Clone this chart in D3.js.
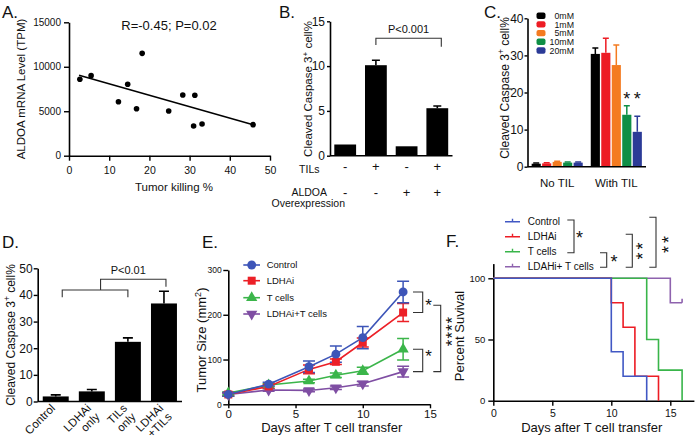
<!DOCTYPE html>
<html><head><meta charset="utf-8">
<script src="https://cdn.jsdelivr.net/npm/d3@7"></script>
<style>
html,body{margin:0;padding:0;background:#fff;}
svg{display:block;font-family:"Liberation Sans",Arial,Helvetica,sans-serif;}
</style></head><body>
<svg id="chart" width="699" height="446"></svg>
<script>
// ================= DATA =================
// Panel A: ALDOA vs tumor killing
const killPct  = [2.7, 5.5, 12.3, 14.6, 16.8, 18.2, 24.8, 28.3, 31.3, 31.0, 33.1, 45.8];
const aldoaTPM = [8590, 9000, 6070, 8030, 5285, 11510, 5025, 6825, 6800, 3340, 3560, 3490];
const fitKill  = [2.5, 45.8];
const fitTPM   = [9050, 3490];
const aTicksX  = [0, 10, 20, 30, 40, 50];
const aTicksY  = [0, 5000, 10000, 15000];

// Panel B
const bGroups = ["b1", "b2", "b3", "b4"];
const bValues = [1.25, 10.1, 1.05, 5.3];
const bErrors = [0, 0.55, 0, 0.25];
const bTILs   = ["-", "+", "-", "+"];
const bALDOA  = ["-", "-", "+", "+"];
const bTicksY = [0, 5, 10, 15];

// Panel C
const cGroups     = ["No TIL", "With TIL"];
const cDoses      = ["0mM", "1mM", "5mM", "10mM", "20mM"];
const cNoTIL      = [0.8, 0.9, 1.3, 1.1, 1.1];
const cNoTILErr   = [0.2, 0.15, 0.2, 0.15, 0.15];
const cWithTIL    = [30.4, 30.7, 27.4, 14.0, 9.4];
const cWithTILErr = [1.6, 3.9, 5.4, 2.4, 4.2];
const cTicksY     = [0, 10, 20, 30, 40];

// Panel D
const dGroups = ["Control", "LDHAi only", "TILs only", "LDHAi +TILs"];
const dLabels = [["Control"], ["LDHAi", "only"], ["TILs", "only"], ["LDHAi", "+TILs"]];
const dValues = [1.9, 3.8, 22.4, 36.8];
const dErrors = [0.6, 0.7, 1.5, 4.6];
const dTicksY = [0, 10, 20, 30, 40, 50];

// Panel E: tumor growth
const eDays       = [0, 3, 6, 8, 10, 13];
const eControl    = [22, 45, 84, 112, 149, 251];
const eControlErr = [4, 4, 13, 18, 25, 24];
const eLDHAi      = [22, 40, 78, 95, 138, 205];
const eLDHAiErr   = [4, 4, 10, 6, 10, 20];
const eTcells     = [25, 43, 52, 65, 75, 123];
const eTcellsErr  = [3, 3, 4, 5, 8, 24];
const eCombo      = [22, 32, 31, 37, 46, 73];
const eComboErr   = [3, 3, 3, 4, 5, 12];
const eTicksX     = [0, 5, 10, 15];
const eTicksY     = [0, 100, 200, 300];

// Panel F: survival
const fControlT = [0, 10, 11, 13];      const fControlP = [100, 40, 20, 0];
const fLDHAiT   = [0, 10, 11, 12, 14];  const fLDHAiP   = [100, 80, 60, 20, 0];
const fTcellsT  = [0, 13, 14, 16];      const fTcellsP  = [100, 50, 25, 0];
const fComboT   = [0, 15, 16];          const fComboP   = [100, 80, 80];
const fTicksX   = [0, 5, 10, 15];
const fTicksY   = [0, 50, 100];

// ================= DRAW =================
const FONT = '"Liberation Sans", Arial, Helvetica, sans-serif';
const svg = d3.select("#chart");

function styleAxis(g, fs) {
  g.select(".domain").attr("stroke", "#000").attr("stroke-width", 1.6);
  g.selectAll(".tick line").attr("stroke", "#000").attr("stroke-width", 1.4);
  g.selectAll(".tick text").attr("fill", "#111").style("font-size", fs + "px").style("font-family", FONT);
}
function text(x, y, t, fs, anchor) {
  return svg.append("text").attr("x", x).attr("y", y).attr("font-size", fs)
    .attr("text-anchor", anchor || "start").attr("fill", "#111").style("font-family", FONT).text(t);
}
function vtitle(x, yc, fs, parts) {
  const t = svg.append("text").attr("transform", `translate(${x},${yc}) rotate(-90)`)
    .attr("text-anchor", "middle").attr("font-size", fs).attr("fill", "#111").style("font-family", FONT);
  parts.forEach(p => {
    const ts = t.append("tspan").text(p.t);
    if (p.sup) ts.attr("baseline-shift", "super").attr("font-size", fs * 0.7);
  });
  return t;
}
function star(xc, yc, fs) {
  return text(xc, yc + fs * 0.58, "*", fs, "middle");
}
function vstars(xc, yc, n, fs, spacing) {
  return svg.append("text").attr("transform", `translate(${xc + fs * 0.58},${yc}) rotate(-90)`)
    .attr("text-anchor", "middle").attr("font-size", fs).attr("letter-spacing", spacing || 0)
    .attr("fill", "#111").style("font-family", FONT).text("*".repeat(n));
}
function panelLabel(x, y, t) { return text(x, y, t, 17, "start"); }
const bracketStroke = "#333";

// ---------- Panel A ----------
{
  const xA = d3.scaleLinear().domain([0, 50]).range([69, 270]);
  const yA = d3.scaleLinear().domain([0, 15000]).range([155.7, 22.3]);
  svg.append("g").attr("transform", "translate(0,155.7)")
    .call(d3.axisBottom(xA).tickValues(aTicksX).tickSize(5).tickSizeOuter(0).tickPadding(6))
    .call(styleAxis, 10.5);
  svg.append("g").attr("transform", "translate(69,0)")
    .call(d3.axisLeft(yA).tickValues(aTicksY).tickFormat(d3.format("d")).tickSize(5).tickSizeOuter(0).tickPadding(3))
    .call(styleAxis, 10);
  svg.append("line").attr("x1", xA(fitKill[0])).attr("y1", yA(fitTPM[0]))
    .attr("x2", xA(fitKill[1])).attr("y2", yA(fitTPM[1])).attr("stroke", "#000").attr("stroke-width", 1.5);
  svg.append("g").selectAll("circle").data(killPct).join("circle")
    .attr("cx", d => xA(d)).attr("cy", (d, i) => yA(aldoaTPM[i])).attr("r", 2.8).attr("fill", "#000");
  panelLabel(2, 18, "A.");
  text(169, 30, "R=-0.45; P=0.02", 13, "middle");
  text(174, 191, "Tumor killing %", 11.5, "middle");
  vtitle(25, 89, 11.5, [{t: "ALDOA mRNA Level (TPM)"}]);
}

// ---------- Panel B ----------
{
  const xB = d3.scaleBand().domain(bGroups).range([330, 452.5]).paddingInner(0.29).paddingOuter(0.14);
  const yB = d3.scaleLinear().domain([0, 15]).range([155.7, 21.3]);
  svg.append("g").attr("transform", "translate(330,0)")
    .call(d3.axisLeft(yB).tickValues(bTicksY).tickSize(3).tickSizeOuter(0).tickPadding(2))
    .call(styleAxis, 12);
  svg.append("g").selectAll("rect").data(bGroups).join("rect")
    .attr("x", d => xB(d)).attr("width", xB.bandwidth())
    .attr("y", (d, i) => yB(bValues[i])).attr("height", (d, i) => yB(0) - yB(bValues[i])).attr("fill", "#000");
  bGroups.forEach((g, i) => {
    if (!bErrors[i]) return;
    const cx = xB(g) + xB.bandwidth() / 2, y1 = yB(bValues[i]), y2 = yB(bValues[i] + bErrors[i]);
    svg.append("path").attr("d", `M${cx},${y1}V${y2}M${cx - 4},${y2}H${cx + 4}`).attr("stroke", "#000").attr("stroke-width", 1.6).attr("fill", "none");
  });
  svg.append("line").attr("x1", 330).attr("x2", 452.5).attr("y1", 155.7).attr("y2", 155.7).attr("stroke", "#000").attr("stroke-width", 1.6);
  const cB = i => xB(bGroups[i]) + xB.bandwidth() / 2;
  svg.append("path").attr("d", `M${cB(1)},45V38.3H${cB(3) + 4}V46.7`).attr("stroke", bracketStroke).attr("stroke-width", 1.1).attr("fill", "none");
  text((cB(1) + cB(3) + 4) / 2, 33, "P<0.001", 11, "middle");
  bGroups.forEach((g, i) => {
    text(cB(i), 171, bTILs[i], 13, "middle");
    text(cB(i), 196.5, bALDOA[i], 13, "middle");
  });
  text(319.5, 173, "TILs", 10.5, "end");
  text(327, 195.5, "ALDOA", 10.5, "end");
  text(345, 207, "Overexpression", 10.5, "end");
  panelLabel(279, 18, "B.");
  vtitle(312, 89, 11.5, [{t: "Cleaved Caspase 3"}, {t: "+", sup: true}, {t: " cell%"}]);
}

// ---------- Panel C ----------
{
  const x0 = d3.scaleBand().domain(cGroups).range([527.5, 646]).paddingInner(0.136).paddingOuter(0.07);
  const x1 = d3.scaleBand().domain(cDoses).range([0, x0.bandwidth()]).paddingInner(0.13);
  const yC = d3.scaleLinear().domain([0, 40]).range([166.7, 18.3]);
  const cColors = ["#000000", "#ed1c24", "#f47b20", "#0f8f46", "#2b3a97"];
  svg.append("g").attr("transform", "translate(527.5,0)")
    .call(d3.axisLeft(yC).tickValues(cTicksY).tickSize(3).tickSizeOuter(0).tickPadding(1))
    .call(styleAxis, 12);
  const groupsData = [{g: "No TIL", v: cNoTIL, e: cNoTILErr}, {g: "With TIL", v: cWithTIL, e: cWithTILErr}];
  groupsData.forEach(gd => {
    cDoses.forEach((d, i) => {
      const x = x0(gd.g) + x1(d), w = x1.bandwidth(), cx = x + w / 2;
      const yt = yC(gd.v[i]), ye = yC(gd.v[i] + gd.e[i]);
      svg.append("path").attr("d", `M${cx},${yt}V${ye}M${cx - 3},${ye}H${cx + 3}`).attr("stroke", cColors[i]).attr("stroke-width", 1.5).attr("fill", "none");
      svg.append("rect").attr("x", x).attr("width", w).attr("y", yt).attr("height", yC(0) - yt).attr("fill", cColors[i]);
    });
  });
  svg.append("line").attr("x1", 527.5).attr("x2", 646).attr("y1", 166.7).attr("y2", 166.7).attr("stroke", "#000").attr("stroke-width", 1.6);
  cGroups.forEach(g => text(x0(g) + x0.bandwidth() / 2, 187, g, 11.5, "middle"));
  [3, 4].forEach(i => star(x0("With TIL") + x1(cDoses[i]) + x1.bandwidth() / 2, yC(19.4), 18));
  cDoses.forEach((d, i) => {
    const yy = 15.7 + i * 8.7;
    svg.append("rect").attr("x", 536.5).attr("y", yy - 3.2).attr("width", 9).attr("height", 6.4).attr("rx", 2).attr("fill", cColors[i]);
    text(574, yy + 3.2, d, 8.8, "end");
  });
  panelLabel(484, 18, "C.");
  vtitle(509, 88, 12, [{t: "Cleaved Caspase 3"}, {t: "+", sup: true}, {t: " cell%"}]);
}

// ---------- Panel D ----------
{
  const xD = d3.scaleBand().domain(dGroups).range([37.7, 182]).paddingInner(0.28).paddingOuter(0.14);
  const yD = d3.scaleLinear().domain([0, 50]).range([401.5, 268.3]);
  svg.append("g").attr("transform", "translate(37.7,0)")
    .call(d3.axisLeft(yD).tickValues(dTicksY).tickSize(4).tickSizeOuter(0).tickPadding(1))
    .call(styleAxis, 12);
  const cD = i => xD(dGroups[i]) + xD.bandwidth() / 2;
  dGroups.forEach((g, i) => {
    const x = xD(g), w = xD.bandwidth(), cx = cD(i);
    const yt = yD(dValues[i]), ye = yD(dValues[i] + dErrors[i]);
    svg.append("path").attr("d", `M${cx},${yt}V${ye}M${cx - 5},${ye}H${cx + 5}`).attr("stroke", "#000").attr("stroke-width", 1.6).attr("fill", "none");
    svg.append("rect").attr("x", x).attr("width", w).attr("y", yt).attr("height", yD(0) - yt).attr("fill", "#000");
    const lab = svg.append("text").attr("transform", `translate(${cx},409) rotate(-45)`)
      .attr("text-anchor", "end").attr("font-size", 11.5).attr("fill", "#111").style("font-family", FONT);
    dLabels[i].forEach((l, j) => lab.append("tspan").attr("x", 0).attr("dy", j ? "1.05em" : 0).text(l));
  });
  svg.append("line").attr("x1", 37.7).attr("x2", 182).attr("y1", 401.5).attr("y2", 401.5).attr("stroke", "#000").attr("stroke-width", 1.6);
  const lx1 = cD(0) + 6.5, lx2 = cD(2);
  const ux1 = (lx1 + lx2) / 2 + 5.5, ux2 = cD(3) + 2;
  svg.append("path").attr("d", `M${lx1},297.3V290H${lx2}V297.3`).attr("stroke", bracketStroke).attr("stroke-width", 1.1).attr("fill", "none");
  svg.append("path").attr("d", `M${ux1},290V279.3H${ux2}V286.7`).attr("stroke", bracketStroke).attr("stroke-width", 1.1).attr("fill", "none");
  text((ux1 + ux2) / 2 - 5, 274, "P<0.01", 11, "middle");
  panelLabel(2, 248, "D.");
  vtitle(15, 335, 12, [{t: "Cleaved Caspase 3"}, {t: "+", sup: true}, {t: " cell%"}]);
}

// ---------- Panel E ----------
{
  const xE = d3.scaleLinear().domain([0, 15]).range([228.3, 430]);
  const yE = d3.scaleLinear().domain([0, 300]).range([404.3, 270]);
  svg.append("g").attr("transform", "translate(0,404.3)")
    .call(d3.axisBottom(xE).tickValues(eTicksX).tickSize(4).tickSizeOuter(0).tickPadding(2))
    .call(styleAxis, 11.5);
  svg.append("g").attr("transform", "translate(228.3,0)")
    .call(d3.axisLeft(yE).tickValues(eTicksY).tickSize(5).tickSizeOuter(0).tickPadding(1.5))
    .call(styleAxis, 8.5);
  const series = [
    {name: "LDHAi+T cells", v: eCombo, e: eComboErr, color: "#7f4ea3", sym: d3.symbolTriangle, size: 55, rot: 180},
    {name: "T cells", v: eTcells, e: eTcellsErr, color: "#3bb54a", sym: d3.symbolTriangle, size: 55, rot: 0},
    {name: "LDHAi", v: eLDHAi, e: eLDHAiErr, color: "#ec2027", sym: d3.symbolSquare, size: 64, rot: 0},
    {name: "Control", v: eControl, e: eControlErr, color: "#3d55b8", sym: d3.symbolCircle, size: 62, rot: 0}
  ];
  const line = d3.line().x((d, i) => xE(eDays[i])).y(d => yE(d));
  series.forEach(s => {
    svg.append("path").attr("d", line(s.v)).attr("stroke", s.color).attr("stroke-width", 1.6).attr("fill", "none");
    s.v.forEach((v, i) => {
      const cx = xE(eDays[i]), y1 = yE(v - s.e[i]), y2 = yE(v + s.e[i]);
      svg.append("path").attr("d", `M${cx},${y1}V${y2}M${cx - 6},${y1}H${cx + 6}M${cx - 6},${y2}H${cx + 6}`)
        .attr("stroke", s.color).attr("stroke-width", 1.5).attr("fill", "none");
    });
  });
  series.forEach(s => {
    svg.append("g").selectAll("path").data(s.v).join("path")
      .attr("d", d3.symbol().type(s.sym).size(s.size))
      .attr("transform", (d, i) => `translate(${xE(eDays[i])},${yE(d)}) rotate(${s.rot})`)
      .attr("fill", s.color);
  });
  const legOrder = [series[3], series[2], series[1], series[0]];
  const legY = [265, 280.7, 297.7, 314];
  legOrder.forEach((s, i) => {
    svg.append("line").attr("x1", 243.3).attr("x2", 260).attr("y1", legY[i]).attr("y2", legY[i]).attr("stroke", s.color).attr("stroke-width", 1.6);
    svg.append("path").attr("d", d3.symbol().type(s.sym).size(s.size)).attr("transform", `translate(251.7,${legY[i]}) rotate(${s.rot})`).attr("fill", s.color);
    text(266.7, legY[i] + 3.4, s.name, 9.5, "start");
  });
  const last = eDays.length - 1;
  const bx = 422.7, bx0 = 413;
  const br = (ya, yb, x, x0) => svg.append("path").attr("d", `M${x0},${ya}H${x}V${yb}H${x0}`).attr("stroke", bracketStroke).attr("stroke-width", 1.1).attr("fill", "none");
  br(yE(eControl[last]), yE(eLDHAi[last]), bx, bx0);
  br(yE(eTcells[last]), yE(eCombo[last]), bx, bx0);
  br(yE((eControl[last] + eLDHAi[last]) / 2) + 3, yE(eCombo[last]), 440.7, 433.3);
  star(428.5, (yE(eControl[last]) + yE(eLDHAi[last])) / 2 - 1, 17);
  star(428.5, (yE(eTcells[last]) + yE(eCombo[last])) / 2 - 8, 17);
  vstars(448.3, 331, 4, 17, 1);
  panelLabel(202, 248, "E.");
  vtitle(206, 340, 13, [{t: "Tumor Size (mm"}, {t: "2", sup: true}, {t: ")"}]);
  text(331.7, 432, "Days after T cell transfer", 13, "middle");
}

// ---------- Panel F ----------
{
  const xF = d3.scaleLinear().domain([0, 17]).range([493.3, 693.9]);
  const yF = d3.scaleLinear().domain([0, 112]).range([400.7, 263.6]);
  svg.append("g").attr("transform", "translate(0,400.7)")
    .call(d3.axisBottom(xF).tickValues(fTicksX).tickSize(5).tickSizeOuter(0).tickPadding(4))
    .call(styleAxis, 10.5);
  svg.append("g").attr("transform", "translate(493.3,0)")
    .call(d3.axisLeft(yF).tickValues(fTicksY).tickSize(5).tickSizeOuter(0).tickPadding(3))
    .call(styleAxis, 9.5);
  const series = [
    {name: "LDAHi+ T cells", t: fComboT, p: fComboP, color: "#8e62ae"},
    {name: "T cells", t: fTcellsT, p: fTcellsP, color: "#39b54a"},
    {name: "LDHAi", t: fLDHAiT, p: fLDHAiP, color: "#ed1c24"},
    {name: "Control", t: fControlT, p: fControlP, color: "#4158c4"}
  ];
  const step = d3.line().x(d => xF(d[0])).y(d => yF(d[1])).curve(d3.curveStepAfter);
  series.forEach(s => {
    svg.append("path").attr("d", step(s.t.map((t, i) => [t, s.p[i]]))).attr("stroke", s.color).attr("stroke-width", 1.6).attr("fill", "none");
  });
  const cs = series[0], li = cs.t.length - 1;
  svg.append("line").attr("x1", xF(cs.t[li])).attr("x2", xF(cs.t[li])).attr("y1", yF(cs.p[li])).attr("y2", yF(cs.p[li]) - 4).attr("stroke", cs.color).attr("stroke-width", 1.6);
  const legOrder = [series[3], series[2], series[1], series[0]];
  legOrder.forEach((s, i) => {
    const yy = 221.7 + i * 15;
    svg.append("path").attr("d", `M505,${yy}H520M512.5,${yy}V${yy - 3}`).attr("stroke", s.color).attr("stroke-width", 1.4).attr("fill", "none");
    text(527.7, yy + 3.6, s.name, 10, "start");
  });
  const br = (ya, yb, x, x0) => svg.append("path").attr("d", `M${x0},${ya}H${x}V${yb}H${x0}`).attr("stroke", bracketStroke).attr("stroke-width", 1.1).attr("fill", "none");
  br(220, 252.7, 574, 567.3);
  br(252.7, 267.3, 606.7, 600);
  br(234.3, 267.3, 632.3, 625.7);
  br(217.3, 267.3, 656, 649.3);
  star(579.5, 234, 18);
  star(614, 258, 18);
  vstars(638.5, 249.5, 2, 18, 3);
  vstars(665, 243, 2, 18, 3);
  panelLabel(446, 247, "F.");
  vtitle(464, 336, 13, [{t: "Percent Suvival"}]);
  text(591.7, 432, "Days after T cell transfer", 13, "middle");
}
</script>
</body></html>
